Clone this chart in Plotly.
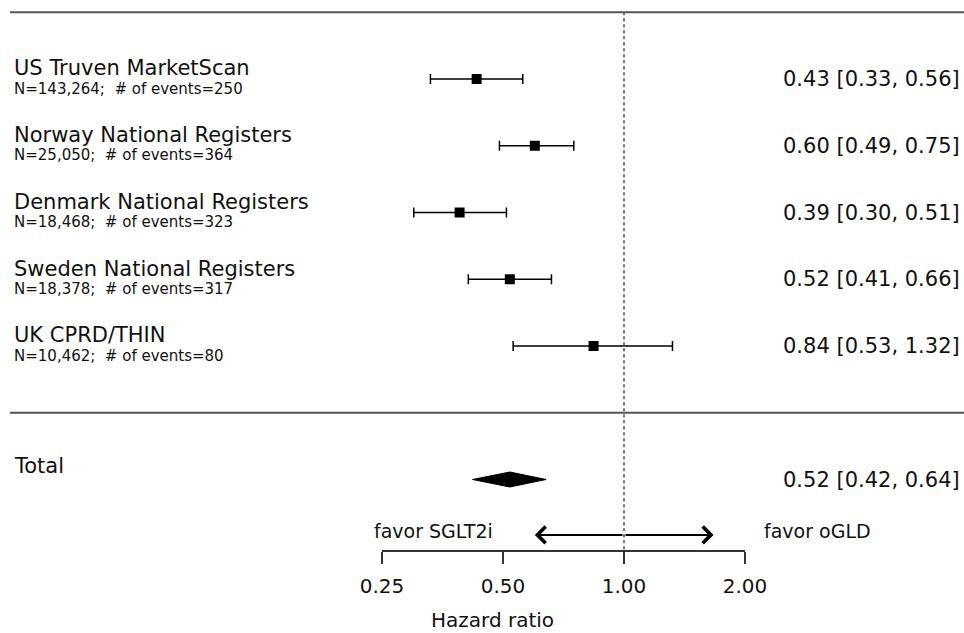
import numpy as np
import plotly.graph_objects as go

# ---------------- data ----------------
studies = ["US Truven MarketScan", "Norway National Registers", "Denmark National Registers",
           "Sweden National Registers", "UK CPRD/THIN"]
n_patients = ["143,264", "25,050", "18,468", "18,378", "10,462"]
n_events = [250, 364, 323, 317, 80]
hr = [0.43, 0.60, 0.39, 0.52, 0.84]
ci_lo = [0.33, 0.49, 0.30, 0.41, 0.53]
ci_hi = [0.56, 0.75, 0.51, 0.66, 1.32]
total_label = "Total"
total_hr, total_lo, total_hi = 0.52, 0.42, 0.64
tick_vals = [0.25, 0.5, 1.0, 2.0]
tick_text = ["0.25", "0.50", "1.00", "2.00"]
arrow_lo, arrow_hi = 0.60, 1.67
left_note, right_note = "favor SGLT2i", "favor oGLD"
x_title = "Hazard ratio"

# ---------------- layout constants ----------------
W, H = 964, 633
PX_DEC = 402.0          # pixels per log10 unit
X_ONE = 624.0           # pixel of HR = 1
ROW_PX = 66.75
ROW1_PX = 79.0
FONT = "DejaVu Sans"

rows = np.arange(1, len(studies) + 1)
total_row = 7
sep_row = 6
top_row = 0
arrow_row = 7.83
axis_row = 8.07
title_row = 9.11

lhr = np.log10(hr)
llo = np.log10(ci_lo)
lhi = np.log10(ci_hi)

fig = go.Figure()

# study estimates with CIs
fig.add_trace(go.Scatter(
    x=lhr, y=rows, mode="markers",
    marker=dict(symbol="square", size=10, color="black"),
    error_x=dict(type="data", symmetric=False, array=lhi - lhr, arrayminus=lhr - llo,
                 width=5, thickness=1.5, color="black"),
    showlegend=False, hoverinfo="skip"))

# summary diamond
dh = 7.5 / ROW_PX
lt, ll, lh = np.log10(total_hr), np.log10(total_lo), np.log10(total_hi)
fig.add_trace(go.Scatter(
    x=[ll, lt, lh, lt, ll], y=[total_row, total_row - dh, total_row, total_row + dh, total_row],
    mode="lines", fill="toself", fillcolor="black", line=dict(color="black", width=1),
    showlegend=False, hoverinfo="skip"))

# invisible trace for the bottom axis
fig.add_trace(go.Scatter(x=tick_vals, y=[axis_row] * 4, xaxis="x2", yaxis="y", mode="markers",
                         marker=dict(opacity=0), showlegend=False, hoverinfo="skip"))

shapes = [
    dict(type="line", xref="paper", yref="y", x0=10 / W, x1=1, y0=top_row, y1=top_row,
         line=dict(color="#555555", width=2)),
    dict(type="line", xref="paper", yref="y", x0=10 / W, x1=1, y0=sep_row, y1=sep_row,
         line=dict(color="#555555", width=2)),
    dict(type="line", xref="x", yref="y", x0=0, x1=0, y0=top_row, y1=axis_row,
         line=dict(color="#444444", width=1.5, dash="dot")),
]

annotations = []
for i, r in enumerate(rows):
    annotations.append(dict(x=12 / W, xref="paper", y=r, yref="y", text=studies[i],
                            xanchor="left", yanchor="middle", yshift=10.7, showarrow=False,
                            font=dict(family=FONT, size=21, color="#111111")))
    annotations.append(dict(x=12 / W, xref="paper", y=r, yref="y",
                            text=f"N={n_patients[i]};\u00a0 # of events={n_events[i]}",
                            xanchor="left", yanchor="middle", yshift=-9.7, showarrow=False,
                            font=dict(family=FONT, size=15, color="#111111")))
    annotations.append(dict(x=962 / W, xref="paper", y=r, yref="y",
                            text=f"{hr[i]:.2f} [{ci_lo[i]:.2f}, {ci_hi[i]:.2f}]",
                            xanchor="right", yanchor="middle", showarrow=False,
                            font=dict(family=FONT, size=21, color="#111111")))

annotations.append(dict(x=12 / W, xref="paper", y=total_row, yref="y", text=total_label,
                        xanchor="left", yanchor="middle", yshift=13.5, showarrow=False,
                        font=dict(family=FONT, size=21, color="#111111")))
annotations.append(dict(x=962 / W, xref="paper", y=total_row, yref="y",
                        text=f"{total_hr:.2f} [{total_lo:.2f}, {total_hi:.2f}]",
                        xanchor="right", yanchor="middle", showarrow=False,
                        font=dict(family=FONT, size=21, color="#111111")))

# favour arrows
for end in (arrow_lo, arrow_hi):
    annotations.append(dict(x=np.log10(end), y=arrow_row, xref="x", yref="y",
                            ax=0, ay=arrow_row, axref="x", ayref="y", text="",
                            showarrow=True, arrowhead=4, arrowsize=1.6, arrowwidth=2,
                            arrowcolor="black", standoff=0, startstandoff=0))
annotations.append(dict(x=495 / W, xref="paper", y=arrow_row, yref="y", text=left_note,
                        xanchor="right", yanchor="middle", yshift=4, showarrow=False,
                        font=dict(family=FONT, size=19, color="#111111")))
annotations.append(dict(x=762 / W, xref="paper", y=arrow_row, yref="y", text=right_note,
                        xanchor="left", yanchor="middle", yshift=4, showarrow=False,
                        font=dict(family=FONT, size=19, color="#111111")))
annotations.append(dict(x=492.5 / W, xref="paper", y=title_row, yref="y", text=x_title,
                        xanchor="center", yanchor="middle", showarrow=False,
                        font=dict(family=FONT, size=20, color="#111111")))

y_top = 1 - ROW1_PX / ROW_PX
y_bot = 1 + (H - ROW1_PX) / ROW_PX
x0_px = X_ONE + np.log10(tick_vals[0]) * PX_DEC
x1_px = X_ONE + np.log10(tick_vals[-1]) * PX_DEC
axis_px = ROW1_PX + (axis_row - 1) * ROW_PX

fig.update_layout(
    width=W, height=H, margin=dict(l=0, r=0, t=0, b=0, autoexpand=False),
    paper_bgcolor="white", plot_bgcolor="rgba(0,0,0,0)",
    xaxis=dict(range=[-X_ONE / PX_DEC, (W - X_ONE) / PX_DEC], visible=False, fixedrange=True,
               automargin=False),
    yaxis=dict(range=[y_bot, y_top], visible=False, fixedrange=True, automargin=False),
    xaxis2=dict(type="log", anchor="free", position=1 - axis_px / H,
                domain=[x0_px / W, x1_px / W], automargin=False,
                range=[np.log10(tick_vals[0]), np.log10(tick_vals[-1])],
                tickvals=tick_vals, ticktext=tick_text, ticks="outside", ticklen=12,
                tickwidth=1.5, tickcolor="#333333", showline=True, linecolor="#333333",
                linewidth=1.5, showgrid=False, zeroline=False, fixedrange=True,
                ticklabelstandoff=5,
                tickfont=dict(family=FONT, size=20, color="#111111")),
    shapes=shapes, annotations=annotations, showlegend=False,
)

fig.write_html("out.html")
